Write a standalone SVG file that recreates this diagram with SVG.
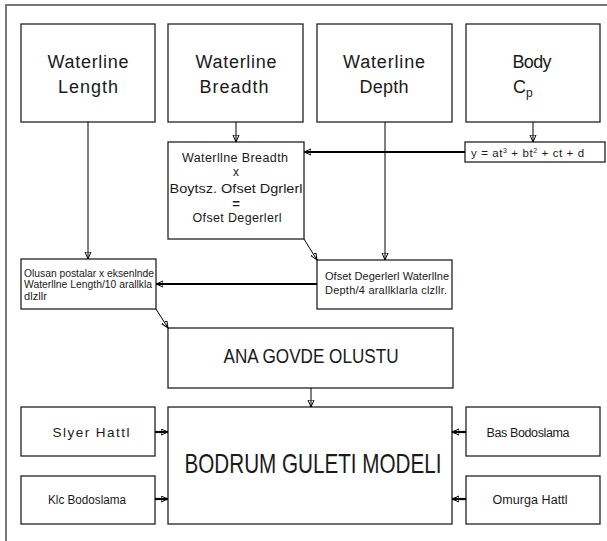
<svg xmlns="http://www.w3.org/2000/svg" width="607" height="541" viewBox="0 0 607 541">
<defs>
<style>
.box{fill:#fff;stroke:#222;stroke-width:1.3}
.t{font-family:"Liberation Sans",Arial,sans-serif;fill:#1a1a1a}
.c{text-anchor:middle}
.ln{stroke:#000;stroke-width:1;fill:none}
.thk{stroke:#000;stroke-width:2.2;fill:none}
.frame{stroke:#777;stroke-width:2;fill:none}
</style>
<marker id="arr" markerUnits="userSpaceOnUse" markerWidth="10" markerHeight="10" refX="7" refY="3.5" orient="auto" viewBox="0 0 10 10">
<path d="M0,0.5 L7,3.5 L0,6.5 Z" fill="none" stroke="#000" stroke-width="1"/>
</marker>
</defs>
<rect width="607" height="541" fill="#fff"/>
<path class="frame" d="M6,541 V5 H607"/>

<g id="waterline-length">
<rect class="box" x="21" y="24" width="134" height="98"/>
<text class="t c" x="88" y="68" font-size="18" textLength="81" lengthAdjust="spacing">Waterline</text>
<text class="t c" x="88" y="93" font-size="18" textLength="60" lengthAdjust="spacing">Length</text>
</g>
<g id="waterline-breadth">
<rect class="box" x="168" y="24" width="135" height="98"/>
<text class="t c" x="236" y="68" font-size="18" textLength="81" lengthAdjust="spacing">Waterline</text>
<text class="t c" x="234" y="93" font-size="18" textLength="69" lengthAdjust="spacing">Breadth</text>
</g>
<g id="waterline-depth">
<rect class="box" x="317" y="24" width="135" height="98"/>
<text class="t c" x="384" y="68" font-size="18" textLength="82" lengthAdjust="spacing">Waterline</text>
<text class="t c" x="384" y="93" font-size="18" textLength="49" lengthAdjust="spacing">Depth</text>
</g>
<g id="body-cp">
<rect class="box" x="466" y="24" width="134" height="98"/>
<text class="t c" x="532" y="68" font-size="18" textLength="39" lengthAdjust="spacing">Body</text>
<text class="t" x="513" y="93" font-size="18">C<tspan font-size="12" dy="4">p</tspan></text>
</g>
<g id="equation">
<rect class="box" x="465" y="142" width="140" height="20"/>
<text class="t" x="471" y="157" font-size="11.5" letter-spacing="0.6">y = at<tspan font-size="7" dy="-4">3</tspan><tspan dy="4"> + bt</tspan><tspan font-size="7" dy="-4">2</tspan><tspan dy="4"> + ct + d</tspan></text>
</g>
<g id="offset-calc">
<rect class="box" x="168" y="142" width="136" height="97"/>
<text class="t c" x="235" y="162" font-size="12.5" textLength="106" lengthAdjust="spacing">Waterllne Breadth</text>
<text class="t c" x="236" y="176" font-size="12">x</text>
<text class="t c" x="236" y="193" font-size="12.5" textLength="133" lengthAdjust="spacingAndGlyphs">Boytsz. Ofset Dgrlerl</text>
<text class="t c" x="236" y="208" font-size="13" font-weight="bold">=</text>
<text class="t c" x="237" y="222" font-size="12.5" textLength="89" lengthAdjust="spacing">Ofset Degerlerl</text>
</g>
<g id="postalar">
<rect class="box" x="21" y="259" width="135" height="50"/>
<text class="t" x="24" y="277" font-size="11" textLength="130" lengthAdjust="spacingAndGlyphs">Olusan postalar x eksenlnde</text>
<text class="t" x="24" y="288" font-size="11" textLength="128" lengthAdjust="spacingAndGlyphs">Waterllne Length/10 arallkla</text>
<text class="t" x="24" y="300" font-size="11" textLength="23" lengthAdjust="spacing">dlzllr</text>
</g>
<g id="ofset-depth">
<rect class="box" x="317" y="260" width="135" height="49"/>
<text class="t" x="325" y="280" font-size="11" textLength="124" lengthAdjust="spacing">Ofset Degerlerl Waterllne</text>
<text class="t" x="325" y="294" font-size="11" textLength="122" lengthAdjust="spacing">Depth/4 arallklarla clzllr.</text>
</g>
<g id="ana-govde">
<rect class="box" x="168" y="328" width="285" height="60"/>
<text class="t c" x="311" y="363" font-size="21" textLength="175" lengthAdjust="spacingAndGlyphs">ANA GOVDE OLUSTU</text>
</g>
<g id="bodrum">
<rect class="box" x="168" y="407" width="284" height="117"/>
<text class="t c" x="313" y="473" font-size="28" textLength="257" lengthAdjust="spacingAndGlyphs">BODRUM GULETI MODELI</text>
</g>
<g id="siyer">
<rect class="box" x="21" y="407" width="134" height="49"/>
<text class="t c" x="91" y="437" font-size="13.5" textLength="77" lengthAdjust="spacing">Slyer Hattl</text>
</g>
<g id="kic">
<rect class="box" x="21" y="476" width="134" height="48"/>
<text class="t c" x="87" y="504" font-size="12.5" textLength="78" lengthAdjust="spacingAndGlyphs">Klc Bodoslama</text>
</g>
<g id="bas">
<rect class="box" x="466" y="407" width="134" height="49"/>
<text class="t c" x="528" y="437" font-size="12.5" textLength="83" lengthAdjust="spacing">Bas Bodoslama</text>
</g>
<g id="omurga">
<rect class="box" x="466" y="476" width="134" height="48"/>
<text class="t c" x="530" y="504" font-size="12.5" textLength="75" lengthAdjust="spacing">Omurga Hattl</text>
</g>

<g id="connectors">
<path class="ln" d="M88,122 V259" marker-end="url(#arr)"/>
<path class="ln" d="M236,122 V142" marker-end="url(#arr)"/>
<path class="ln" d="M385,122 V260" marker-end="url(#arr)"/>
<path class="ln" d="M533,122 V142" marker-end="url(#arr)"/>
<path class="thk" d="M465,152 H304" marker-end="url(#arr)"/>
<path class="ln" d="M304,239 L317,260" marker-end="url(#arr)"/>
<path class="thk" d="M317,284 H156" marker-end="url(#arr)"/>
<path class="ln" d="M156,309 L168,328" marker-end="url(#arr)"/>
<path class="ln" d="M311,388 V407" marker-end="url(#arr)"/>
<path class="thk" d="M155,432 H168" marker-end="url(#arr)"/>
<path class="thk" d="M155,499 H168" marker-end="url(#arr)"/>
<path class="thk" d="M466,432 H452" marker-end="url(#arr)"/>
<path class="thk" d="M466,499 H452" marker-end="url(#arr)"/>
</g>
</svg>
